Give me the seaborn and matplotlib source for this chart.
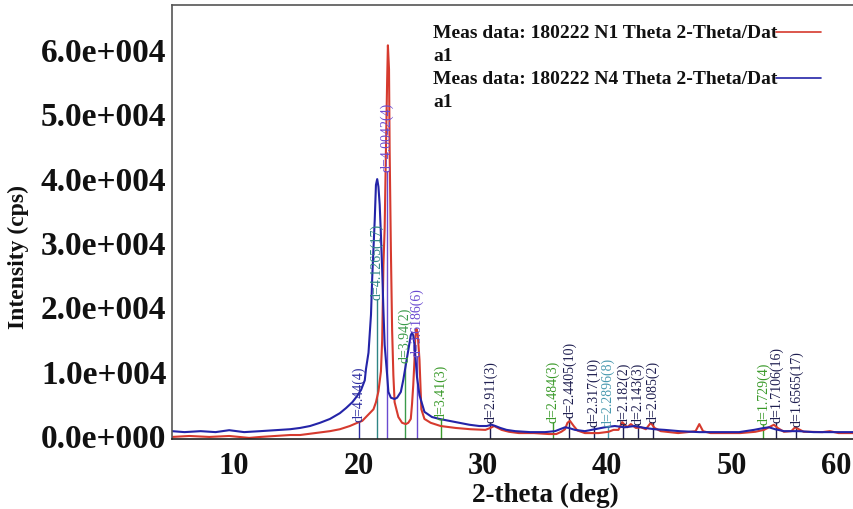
import numpy as np
import pandas as pd
import seaborn as sns
import matplotlib
matplotlib.use("Agg")
import matplotlib.pyplot as plt
from matplotlib.lines import Line2D
from matplotlib.transforms import ScaledTranslation

# --- measured XRD patterns (2-theta in deg, intensity in cps) ---
two_theta_n1 = [5.0, 6.4, 8.0, 9.6, 11.2, 12.1, 13.3, 14.5, 15.3, 16.5, 17.7, 18.5,
                19.3, 19.9, 20.3, 20.6, 20.9, 21.2, 21.4, 21.6, 21.8, 21.9, 22.0,
                22.1, 22.2, 22.3, 22.36, 22.45, 22.5, 22.6, 22.7, 22.8, 22.9, 23.2,
                23.5, 23.8, 24.0, 24.2, 24.3, 24.4, 24.5, 24.55, 24.65, 24.75, 24.9,
                25.05, 25.3, 25.8, 26.6, 27.8, 29.0, 30.2, 30.6, 30.9, 31.1, 31.5,
                32.1, 32.9, 34.1, 35.3, 35.9, 36.3, 36.6, 36.8, 37.0, 37.3, 37.6,
                38.2, 39.3, 40.1, 40.5, 40.9, 41.2, 41.6, 41.9, 42.3, 42.7, 43.1,
                43.5, 43.8, 44.3, 45.7, 46.7, 47.1, 47.4, 47.7, 48.3, 49.5, 50.7,
                51.9, 52.6, 53.0, 53.4, 53.7, 54.2, 54.8, 55.1, 55.4, 55.8, 56.2,
                57.3, 57.9, 58.6, 59.3, 60.0]
intensity_n1 = [-300, -150, -300, -150, -450, -300, -150, 0, 0, 300, 600, 900,
                1400, 1900, 2200, 2800, 3400, 4000, 5100, 6800, 9900, 14800, 26400,
                32200, 44000, 55200, 60600, 56900, 44300, 28800, 16300, 9300, 5100,
                2800, 1900, 1700, 1900, 2500, 4800, 7800, 11700, 14800, 16500, 15900,
                11700, 4000, 2500, 1900, 1400, 1100, 900, 800, 1100, 1400, 1200, 800,
                500, 300, 300, 150, 150, 500, 900, 1900, 2200, 1400, 700, 300, 300,
                500, 800, 800, 2000, 1200, 1700, 1100, 1200, 900, 1900, 1100, 600,
                300, 500, 600, 1700, 600, 300, 300, 300, 500, 800, 1200, 1600, 1100,
                500, 600, 1200, 900, 500, 500, 450, 600, 300, 300, 300]

two_theta_n4 = [5.0, 6.0, 7.3, 8.5, 9.6, 10.8, 12.1, 13.3, 14.5, 15.3, 16.1, 16.9,
                17.7, 18.5, 19.0, 19.5, 19.9, 20.2, 20.5, 20.6, 20.8, 21.0, 21.1,
                21.3, 21.4, 21.5, 21.6, 21.7, 21.8, 21.9, 22.0, 22.1, 22.3, 22.4,
                22.6, 22.9, 23.1, 23.4, 23.6, 23.8, 24.0, 24.2, 24.3, 24.4, 24.5,
                24.7, 24.9, 25.3, 25.9, 26.5, 27.3, 28.1, 28.9, 29.7, 30.3, 30.7,
                31.0, 31.4, 31.9, 32.6, 33.8, 35.0, 35.8, 36.2, 36.6, 36.9, 37.4,
                38.2, 39.0, 39.8, 40.6, 41.4, 42.2, 43.0, 43.8, 44.6, 45.8, 47.4,
                49.0, 50.6, 51.8, 52.6, 53.0, 53.5, 54.2, 55.4, 56.6, 58.2, 59.3,
                60.0]
intensity_n4 = [600, 450, 600, 450, 750, 450, 600, 750, 900, 1100, 1400, 1900,
                2500, 3400, 4200, 5100, 6100, 7000, 8500, 10300, 12800, 18700, 24500,
                33400, 38900, 39800, 38600, 35800, 31100, 25700, 19400, 14000, 9300,
                6700, 5800, 5600, 5800, 6700, 8600, 10900, 13200, 15500, 15900, 15500,
                14000, 9000, 6200, 3600, 2800, 2500, 2200, 1900, 1600, 1400, 1400,
                1600, 1400, 1100, 800, 600, 450, 450, 600, 900, 1200, 1100, 800, 600,
                900, 1200, 1400, 1200, 1400, 1100, 900, 800, 600, 450, 450, 450, 800,
                1100, 1200, 900, 600, 600, 450, 450, 450, 450]

# --- peak annotations (d-spacing labels) ---
peak_labels = ["d=4.44(4)", "d=4.1265(17)", "d=4.0042(4)", "d=3.94(2)", "d=3.6186(6)",
               "d=3.41(3)", "d=2.911(3)", "d=2.484(3)", "d=2.4405(10)", "d=2.317(10)",
               "d=2.2896(8)", "d=2.182(2)", "d=2.143(3)", "d=2.085(2)", "d=1.729(4)",
               "d=1.7106(16)", "d=1.6565(17)"]
peak_positions = [20.05, 21.5, 22.3, 23.75, 24.7, 26.6, 30.6, 35.6, 36.95, 38.95,
                  40.05, 41.3, 42.45, 43.65, 52.55, 53.6, 55.2]
peak_label_base = [2200, 21150, 41000, 11350, 12300, 2500, 2000, 2000, 2800, 1400,
                   1400, 1700, 1700, 2000, 1700, 2000, 1400]
peak_label_colors = ["#2c2ca0", "#2f8585", "#6a4ad0", "#3a9a4a", "#6a4ad0",
                     "#3a9a2a", "#1e1e50", "#3a9a2a", "#1e1e50", "#1e1e50",
                     "#4a9ab0", "#1e1e50", "#1e1e50", "#1e1e50", "#3a9a2a",
                     "#1e1e50", "#1e1e50"]

y_ticks = [0, 10000, 20000, 30000, 40000, 50000, 60000]
y_tick_labels = ["0.0e+000", "1.0e+004", "2.0e+004", "3.0e+004", "4.0e+004",
                 "5.0e+004", "6.0e+004"]
x_ticks = [10, 20, 30, 40, 50, 60]

series_names = ["Meas data: 180222 N1 Theta 2-Theta/Dat\na1",
                "Meas data: 180222 N4 Theta 2-Theta/Dat\na1"]
series_colors = ["#d63a2e", "#2424a8"]

sns.set_theme(style="white")
plt.rcParams["font.family"] = ["Liberation Serif", "DejaVu Serif"]

df = pd.concat([
    pd.DataFrame({"two_theta": two_theta_n1, "intensity": intensity_n1, "sample": series_names[0]}),
    pd.DataFrame({"two_theta": two_theta_n4, "intensity": intensity_n4, "sample": series_names[1]}),
])

fig = plt.figure(figsize=(8.54, 5.10), dpi=100)
W, H = 854, 510
left_px, right_px, top_px, bottom_px = 172, 856, 6, 440
ax = fig.add_axes([left_px / W, 1 - bottom_px / H,
                   (right_px - left_px) / W, (bottom_px - top_px) / H])

sns.lineplot(data=df, x="two_theta", y="intensity", hue="sample",
             palette=dict(zip(series_names, series_colors)),
             estimator=None, sort=False, legend=False, linewidth=1.5, ax=ax)

ax.set_xlim(5, 60)
ax.set_ylim(-620, 66870)

# peak marker lines and rotated d-spacing labels
for lab, pos, base, col in zip(peak_labels, peak_positions, peak_label_base, peak_label_colors):
    ax.vlines(pos, -620, base, colors=col, linewidth=1.0, zorder=1)
    ax.text(pos, base, lab, rotation=90, ha="center", va="bottom",
            fontsize=10, color=col, zorder=3)

ax.set_xticks(x_ticks)
ax.set_yticks(y_ticks)
ax.set_yticklabels(y_tick_labels)
ax.tick_params(axis="x", direction="out", length=3, width=1, pad=6,
               labelsize=22, colors="#111111")
ax.tick_params(axis="y", length=0, pad=4, labelsize=24, colors="#111111")
for lbl in ax.get_xticklabels() + ax.get_yticklabels():
    lbl.set_fontweight("bold")
# keep the last tick label inside the plot edge
last = ax.xaxis.get_major_ticks()[-1].label1
last.set_horizontalalignment("right")
last.set_transform(last.get_transform() + ScaledTranslation(-0.05, 0, fig.dpi_scale_trans))

for side in ["left", "top", "right"]:
    ax.spines[side].set_color("#555555")
    ax.spines[side].set_linewidth(1.2)
ax.spines["bottom"].set_color("#222222")
ax.spines["bottom"].set_linewidth(1.2)

ax.set_xlabel("2-theta (deg)", fontsize=19.5, fontweight="bold", color="#111111")
ax.xaxis.label.set_va("center")
ax.xaxis.set_label_coords((545 - left_px) / (right_px - left_px),
                          -(495 - bottom_px) / (bottom_px - top_px))
ax.set_ylabel("Intensity (cps)", fontsize=17, fontweight="bold", color="#111111")
ax.yaxis.label.set_va("center")
ax.yaxis.set_label_coords((18 - left_px) / (right_px - left_px),
                          (bottom_px - 257) / (bottom_px - top_px))

# legend block: wrapped names with a line sample after the first line
ax_w, ax_h = right_px - left_px, bottom_px - top_px
def ax_x(px):
    return (px - left_px) / ax_w
def ax_y(py):
    return (bottom_px - py) / ax_h

for i, (name, col) in enumerate(zip(series_names, series_colors)):
    first, second = name.split("\n")
    y1 = 33 + i * 46
    ax.text(ax_x(433), ax_y(y1), first, transform=ax.transAxes, ha="left",
            va="center", fontsize=14, fontweight="bold", color="#111111")
    ax.text(ax_x(433), ax_y(y1 + 23), second, transform=ax.transAxes, ha="left",
            va="center", fontsize=14, fontweight="bold", color="#111111")
    ax.add_line(Line2D([ax_x(776), ax_x(821)], [ax_y(y1), ax_y(y1)],
                       transform=ax.transAxes, color=col, linewidth=1.2))

fig.savefig("out.png", dpi=100)
